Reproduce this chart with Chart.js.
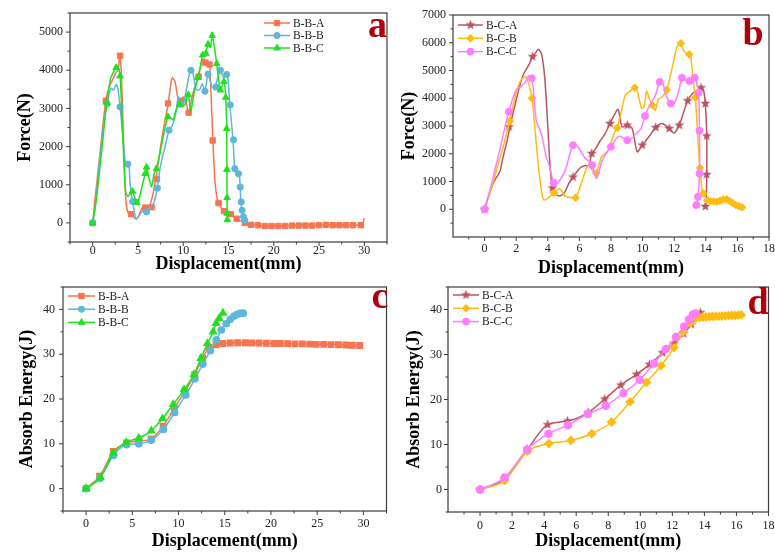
<!DOCTYPE html>
<html>
<head>
<meta charset="utf-8">
<script src="https://cdn.jsdelivr.net/npm/chart.js@4.4.1/dist/chart.umd.min.js"></script>
<style>
  body { margin: 0; background: #fff; }
  #wrap { position: relative; width: 775px; height: 554px; overflow: hidden; }
  canvas { position: absolute; }
</style>
</head>
<body>
<div id="wrap">
  <canvas id="ca" width="392" height="278" style="left:0px;top:0px"></canvas>
  <canvas id="cb" width="383" height="282" style="left:392px;top:0px"></canvas>
  <canvas id="cc" width="392" height="277" style="left:0px;top:277px"></canvas>
  <canvas id="cd" width="383" height="277" style="left:392px;top:277px"></canvas>
</div>
<script>
// ---- tick labels ----
var xTicks30 = [0, 5, 10, 15, 20, 25, 30];
var xTicks18 = [0, 2, 4, 6, 8, 10, 12, 14, 16, 18];
var aYTicks = [0, 1000, 2000, 3000, 4000, 5000];
var bYTicks = [0, 1000, 2000, 3000, 4000, 5000, 6000, 7000];
var energyTicks = [0, 10, 20, 30, 40];

var namesBB = ['B-B-A', 'B-B-B', 'B-B-C'];
var namesBC = ['B-C-A', 'B-C-B', 'B-C-C'];

// ---- (a) force, B-B series  [displacement mm, force N] ----
var aBBA_line = [[0,0],[0.3,700],[0.8,1800],[1.45,3200],[1.9,3600],[2.3,3800],[2.6,3950],[2.8,4000],[3.0,4380],[3.15,4000],[3.3,3000],[3.5,1500],[3.7,500],[3.95,250],[4.4,180],[4.8,100],[5.1,200],[5.5,400],[6.0,400],[6.3,450],[6.7,800],[7.05,1250],[7.5,2000],[8.0,2700],[8.35,3130],[8.6,3600],[8.8,3800],[9.1,3700],[9.4,3300],[9.7,3200],[10.0,3300],[10.3,3200],[10.6,2880],[10.9,3200],[11.2,3500],[11.7,3830],[12.0,4200],[12.3,4300],[12.55,4160],[12.9,4150],[13.05,3500],[13.28,2160],[13.5,1100],[13.7,700],[13.9,500],[14.2,400],[14.5,310],[14.9,280],[15.25,230],[15.6,150],[15.9,110],[16.3,60],[16.8,0],[17.3,-40],[18,-60],[19,-80],[20,-80],[21,-80],[22,-70],[23,-70],[24,-70],[25,-60],[26,-50],[27,-60],[28,-60],[29,-60],[29.7,-60],[30,120]];
var aBBA_mark = [[0,0],[1.45,3200],[3.03,4380],[4.24,230],[5.8,400],[6.5,410],[7.1,1150],[8.32,3130],[9.75,3200],[10.6,2890],[11.7,3830],[12.45,4200],[12.9,4150],[13.25,2160],[13.9,520],[14.5,310],[15.25,230],[15.9,110],[16.8,0],[17.5,-50],[18.25,-60],[19.0,-80],[19.75,-80],[20.5,-80],[21.25,-80],[22.0,-70],[22.75,-70],[23.5,-70],[24.25,-70],[25.0,-60],[25.75,-50],[26.5,-60],[27.25,-60],[28.0,-60],[28.75,-60],[29.6,-60]];
var aBBB_line = [[0,0],[0.3,450],[0.8,1700],[1.57,3110],[2.04,3530],[2.3,3480],[2.6,3630],[2.8,3500],[3.03,3040],[3.25,2500],[3.5,1800],[3.7,1500],[3.98,1590],[4.15,1000],[4.4,570],[4.6,300],[4.8,100],[5.1,180],[5.4,280],[5.77,330],[6.0,280],[6.4,400],[6.8,550],[7.12,900],[7.5,1500],[8.0,2000],[8.43,2420],[8.8,2550],[9.2,2900],[9.45,3300],[9.7,3100],[10.0,3100],[10.35,3500],[10.8,4000],[11.1,3900],[11.4,3500],[11.8,3490],[12.1,3650],[12.4,3450],[12.74,3900],[13.0,3700],[13.2,3550],[13.5,3560],[13.8,3800],[14.1,4000],[14.45,3800],[14.74,3880],[14.95,3750],[15.15,3090],[15.5,2170],[15.7,1420],[15.95,1350],[16.17,1290],[16.3,940],[16.35,550],[16.5,330],[16.65,160],[16.8,70],[16.9,40]];
var aBBB_mark = [[0,0],[1.6,3120],[3.03,3040],[3.87,1540],[4.42,560],[5.95,290],[7.15,910],[8.43,2430],[9.7,3110],[10.85,4000],[12.4,3450],[12.74,3900],[13.6,3560],[14.1,4000],[14.8,3890],[15.2,3090],[15.55,2180],[15.7,1420],[16.1,1290],[16.3,940],[16.4,550],[16.5,330],[16.65,160],[16.8,70]];
var aBBC_line = [[0,0],[0.4,600],[1.0,1900],[1.57,3150],[2.0,3800],[2.3,3950],[2.6,4070],[2.8,4100],[3.03,3850],[3.2,3000],[3.45,1600],[3.65,800],[3.9,700],[4.1,750],[4.4,830],[4.6,700],[4.9,530],[5.2,700],[5.5,1000],[5.8,1290],[5.95,1460],[6.15,1250],[6.5,950],[6.8,1300],[7.04,1420],[7.5,1900],[8.0,2500],[8.32,2780],[8.6,2750],[8.9,2700],[9.2,2950],[9.6,3110],[9.9,3050],[10.2,3100],[10.55,3360],[10.85,2950],[11.2,3400],[11.6,3810],[11.9,4100],[12.15,4400],[12.5,4440],[12.74,4680],[13.0,4600],[13.2,4910],[13.45,4600],[13.7,4170],[14.1,3480],[14.5,3700],[14.7,3290],[14.8,2470],[14.82,1400],[14.84,660],[14.85,250],[14.87,80]];
var aBBC_mark = [[0,0],[1.57,3150],[2.6,4070],[3.03,3850],[4.4,830],[4.9,530],[5.8,1290],[5.95,1460],[7.04,1420],[8.32,2780],[9.6,3110],[10.55,3360],[11.6,3810],[12.15,4400],[12.5,4440],[12.74,4680],[13.2,4910],[13.7,4170],[14.1,3480],[14.5,3700],[14.7,3290],[14.8,2470],[14.82,1400],[14.84,660],[14.85,250],[14.87,80]];

// ---- (b) force, B-C series ----
var bBCA_line = [[0,0],[0.2,400],[0.6,1000],[0.96,1350],[1.17,1890],[1.4,2400],[1.6,2970],[1.9,3700],[2.2,4400],[2.44,4830],[2.8,5200],[3.04,5500],[3.25,5650],[3.4,5770],[3.6,5600],[3.8,4780],[4.0,3000],[4.15,1500],[4.3,770],[4.5,550],[4.76,480],[5.08,620],[5.3,900],[5.6,1160],[5.9,1400],[6.14,1530],[6.4,1580],[6.6,1550],[6.78,2010],[6.97,2130],[7.3,2450],[7.6,2700],[7.94,3090],[8.2,3390],[8.45,3600],[8.7,2970],[9.03,3030],[9.34,2910],[9.66,2070],[9.98,2310],[10.4,2610],[10.83,2950],[11.25,3090],[11.68,2910],[12.0,2750],[12.32,3030],[12.6,3500],[12.85,3910],[13.17,4180],[13.5,4300],[13.7,4380],[13.85,4300],[13.97,3810],[14.06,2640],[14.06,1250],[14.03,500],[13.97,100]];
var bBCA_mark = [[0,0],[1.55,2970],[3.04,5500],[4.3,770],[5.6,1160],[6.78,2010],[7.94,3090],[9.03,3030],[9.98,2310],[10.83,2950],[11.68,2910],[12.32,3030],[12.85,3910],[13.7,4380],[13.97,3810],[14.06,2640],[14.06,1250],[13.97,100]];
var bBCB_line = [[0,0],[0.3,500],[0.8,1500],[1.2,2300],[1.59,3170],[2.0,4200],[2.3,4650],[2.59,4770],[2.8,4500],[3.0,4000],[3.2,2800],[3.45,1300],[3.65,500],[3.76,330],[4.0,400],[4.2,500],[4.4,590],[4.7,750],[4.9,650],[5.08,470],[5.4,420],[5.76,410],[6.1,900],[6.56,1590],[6.88,1350],[7.07,1300],[7.4,1890],[7.83,2130],[8.2,2750],[8.39,2930],[8.65,3500],[8.9,4100],[9.2,4250],[9.51,4380],[9.66,4270],[9.94,3630],[10.1,3700],[10.25,4260],[10.4,4030],[10.62,3750],[10.8,3570],[11.0,3970],[11.25,4050],[11.53,4300],[11.89,5140],[12.2,5880],[12.42,5980],[12.63,5680],[12.95,5580],[13.05,5460],[13.2,4650],[13.34,4030],[13.48,2730],[13.63,1490],[13.8,570],[13.97,440],[14.1,320],[14.44,290],[14.87,290],[15.0,340],[15.29,360],[15.6,260],[15.92,150],[16.15,100],[16.35,60],[16.4,50]];
var bBCB_mark = [[0,0],[1.59,3170],[3.0,4000],[4.4,590],[5.76,410],[7.07,1300],[8.39,2930],[9.51,4380],[10.62,3750],[11.53,4300],[12.42,5980],[12.95,5580],[13.34,4030],[13.63,1490],[13.85,570],[14.1,320],[14.3,290],[14.5,280],[14.7,270],[14.9,310],[15.1,350],[15.3,360],[15.5,300],[15.7,220],[15.9,150],[16.1,110],[16.3,70]];
var bBCC_line = [[0,0],[0.3,600],[0.9,2000],[1.53,3510],[2.0,4300],[2.3,4420],[2.6,4600],[2.78,4800],[2.99,4720],[3.1,4200],[3.27,3210],[3.6,2700],[3.9,1890],[4.12,1530],[4.37,950],[4.6,930],[5.1,1400],[5.4,2000],[5.6,2310],[5.9,2250],[6.3,1890],[6.8,1590],[7.08,1110],[7.45,1770],[7.99,2250],[8.5,2630],[9.03,2490],[9.3,2550],[9.6,2730],[9.9,2900],[10.15,3360],[10.4,3690],[10.8,4100],[11.08,4590],[11.25,4600],[11.5,4080],[11.78,3810],[12.0,3810],[12.3,4290],[12.49,4740],[12.74,4650],[12.97,4620],[13.3,4740],[13.45,4500],[13.55,4200],[13.6,2830],[13.6,1290],[13.5,450],[13.4,150]];
var bBCC_mark = [[0,0],[1.53,3510],[2.99,4720],[4.37,950],[5.6,2310],[6.8,1590],[7.99,2250],[9.03,2490],[10.15,3360],[11.08,4590],[11.78,3810],[12.49,4740],[12.97,4620],[13.3,4740],[13.55,4200],[13.6,2830],[13.6,1290],[13.5,450],[13.4,150]];

// ---- (c) absorbed energy, B-B series  [mm, J] ----
var cBBA = [[0,0],[1.46,2.75],[2.95,8.3],[4.38,10.2],[5.7,10.6],[7.05,11.1],[8.33,13.95],[9.54,17.96],[10.68,21.67],[11.74,25.4],[12.6,29.1],[13.3,31.5],[14.06,32.1],[14.8,32.4],[15.6,32.5],[16.4,32.55],[17.2,32.55],[17.9,32.5],[18.7,32.5],[19.5,32.45],[20.3,32.4],[21.0,32.4],[21.8,32.35],[22.6,32.3],[23.4,32.3],[24.2,32.25],[24.9,32.2],[25.7,32.2],[26.5,32.15],[27.3,32.1],[28.1,32.05],[28.8,32.0],[29.6,31.95]];
var cBBB = [[0,0],[1.5,2.3],[2.95,7.4],[4.38,9.8],[5.7,10.0],[7.05,10.8],[8.36,13.2],[9.57,17.0],[10.78,20.9],[11.78,24.5],[12.63,27.8],[13.45,30.8],[14.09,33.2],[14.63,35.4],[15.16,36.8],[15.6,37.8],[16.0,38.5],[16.35,38.9],[16.7,39.1],[17.0,39.15]];
var cBBC = [[0,0],[1.53,2.45],[2.95,7.94],[4.34,10.3],[5.7,11.3],[7.05,12.9],[8.26,15.6],[9.43,18.8],[10.6,22.1],[11.67,25.45],[12.42,29.1],[13.13,32.4],[13.74,35.0],[14.06,36.9],[14.4,38.0],[14.8,39.2]];

// ---- (d) absorbed energy, B-C series ----
var dBCA = [[0,0],[1.53,2.2],[2.96,8.9],[4.22,14.4],[5.45,15.2],[6.75,17.1],[7.78,20.1],[8.79,23.2],[9.77,25.6],[10.58,27.8],[11.4,30.4],[12.1,32.4],[12.69,34.6],[13.18,36.7],[13.75,39.3]];
var dBCB = [[0,0],[1.53,2.0],[2.96,8.5],[4.29,10.2],[5.67,10.9],[6.97,12.4],[8.2,14.95],[9.36,19.5],[10.38,23.8],[11.3,27.5],[12.1,31.5],[12.69,35.0],[13.1,36.9],[13.47,38.1],[13.7,38.25],[13.9,38.3],[14.1,38.35],[14.3,38.4],[14.5,38.45],[14.7,38.5],[14.9,38.5],[15.1,38.55],[15.3,38.6],[15.5,38.65],[15.7,38.7],[15.9,38.7],[16.1,38.75],[16.3,38.8]];
var dBCC = [[0,0],[1.53,2.65],[2.94,8.9],[4.27,12.4],[5.48,14.3],[6.72,16.8],[7.85,18.6],[8.95,21.4],[9.97,24.4],[10.85,28.0],[11.6,31.2],[12.22,33.9],[12.73,36.2],[13.04,37.8],[13.28,38.9],[13.45,39.1]];

var serif = '"Liberation Serif", "Times New Roman", serif';
Chart.defaults.font.family = serif;

var colBBA = '#F8744E', colBBB = '#5DB7D9', colBBC = '#1FE11F';
var colBCA = '#B75660', colBCB = '#FFBB11', colBCC = '#FF7DFF';

function pts(arr) {
  return arr.map(function (p) { return { x: p[0], y: p[1] }; });
}

function starImage(color) {
  var c = document.createElement('canvas');
  c.width = 11; c.height = 11;
  var g = c.getContext('2d');
  g.fillStyle = color;
  g.beginPath();
  for (var i = 0; i < 10; i++) {
    var r = i % 2 ? 2.2 : 5.3, t = -Math.PI / 2 + i * Math.PI / 5;
    g.lineTo(5.5 + r * Math.cos(t), 5.5 + r * Math.sin(t));
  }
  g.closePath();
  g.fill();
  return c;
}

function lineSet(data, color, order) {
  return { data: pts(data), showLine: true, borderColor: color, borderWidth: 1.5,
    pointRadius: 0, tension: 0.25, fill: false, order: order };
}
function markSet(data, color, style, r, order) {
  return { data: pts(data), showLine: false, pointStyle: style, pointRadius: r,
    backgroundColor: color, borderColor: color, borderWidth: 1, marker: true, order: order };
}
function smoothSet(data, color, style, r, order) {
  return { data: pts(data), showLine: true, borderColor: color, borderWidth: 1.5,
    cubicInterpolationMode: 'monotone', pointStyle: style, pointRadius: r,
    backgroundColor: color, marker: true, order: order };
}

// frame, minor ticks, panel letter and legend
var framePlugin = {
  id: 'frame',
  afterDraw: function (chart, args, o) {
    var ctx = chart.ctx, a = chart.chartArea, sx = chart.scales.x, sy = chart.scales.y;
    ctx.save();
    ctx.strokeStyle = '#3c3c3c';
    ctx.lineWidth = 1.2;
    ctx.strokeRect(a.left, a.top, a.right - a.left, a.bottom - a.top);
    ctx.lineWidth = 1;
    ctx.beginPath();
    function ticks(scale, list, horiz) {
      var step = list[1] - list[0];
      list.forEach(function (v) {
        var p = scale.getPixelForValue(v);
        if (horiz) { ctx.moveTo(p, a.bottom); ctx.lineTo(p, a.bottom + 4); }
        else { ctx.moveTo(a.left, p); ctx.lineTo(a.left - 4, p); }
      });
      for (var v = list[0] - step / 2; v <= scale.max; v += step) {
        if (v < scale.min) continue;
        var p = scale.getPixelForValue(v);
        if (horiz) { ctx.moveTo(p, a.bottom); ctx.lineTo(p, a.bottom + 2.5); }
        else { ctx.moveTo(a.left, p); ctx.lineTo(a.left - 2.5, p); }
      }
    }
    ticks(sx, o.xt, true);
    ticks(sy, o.yt, false);
    ctx.stroke();

    ctx.fillStyle = '#B0000A';
    ctx.font = 'bold 38px ' + serif;
    ctx.textAlign = 'center';
    ctx.textBaseline = 'alphabetic';
    ctx.fillText(o.letter, o.lx, o.ly);

    var marks = chart.data.datasets.filter(function (d) { return d.marker; });
    ctx.font = '11.5px ' + serif;
    ctx.textAlign = 'left';
    ctx.textBaseline = 'middle';
    marks.forEach(function (d, i) {
      var y = o.ly0 + i * o.dy;
      var col = d.borderColor;
      ctx.strokeStyle = col;
      ctx.lineWidth = 1.5;
      ctx.beginPath();
      ctx.moveTo(o.lx0, y); ctx.lineTo(o.lx1, y);
      ctx.stroke();
      ctx.fillStyle = col;
      ctx.lineWidth = 1;
      Chart.helpers.drawPoint(ctx, { pointStyle: d.pointStyle, radius: d.pointRadius, rotation: 0, borderWidth: 1 },
        (o.lx0 + o.lx1) / 2, y);
      ctx.fillStyle = '#222';
      ctx.fillText(o.names[i], o.lx1 + 3, y + 0.5);
    });
    ctx.restore();
  }
};

function xScale(min, max, list, lp, tp, h) {
  return {
    type: 'linear', min: min, max: max,
    afterBuildTicks: function (s) { s.ticks = list.map(function (v) { return { value: v }; }); },
    afterFit: function (s) { s.height = h; s.paddingLeft = 0; s.paddingRight = 0; },
    grid: { display: false, drawTicks: false },
    border: { display: false },
    ticks: { padding: lp, color: '#222', autoSkip: false, maxRotation: 0,
      font: { family: serif, size: 12 }, callback: function (v) { return String(v); } },
    title: { display: true, text: 'Displacement(mm)', color: '#000',
      font: { family: serif, size: 18, weight: 'bold' }, padding: { top: 0, bottom: tp } }
  };
}
function yScale(min, max, list, text, lp, tp, w) {
  return {
    type: 'linear', min: min, max: max,
    afterBuildTicks: function (s) { s.ticks = list.map(function (v) { return { value: v }; }); },
    afterFit: function (s) { s.width = w; s.paddingTop = 0; s.paddingBottom = 0; },
    grid: { display: false, drawTicks: false },
    border: { display: false },
    ticks: { padding: lp, color: '#222', autoSkip: false,
      font: { family: serif, size: 12 }, callback: function (v) { return String(v); } },
    title: { display: true, text: text, color: '#000',
      font: { family: serif, size: 18, weight: 'bold' }, padding: { top: tp, bottom: 0 } }
  };
}

function make(id, datasets, pad, xs, ys, frame) {
  return new Chart(document.getElementById(id), {
    type: 'scatter',
    data: { datasets: datasets },
    options: {
      responsive: false, animation: false,
      layout: { padding: pad },
      plugins: { legend: { display: false }, tooltip: { enabled: false }, frame: frame },
      scales: { x: xs, y: ys }
    },
    plugins: [framePlugin]
  });
}

make('ca', [
  lineSet(aBBA_line, colBBA, 6), markSet(aBBA_mark, colBBA, 'rect', 3.8, 5),
  lineSet(aBBB_line, colBBB, 4), markSet(aBBB_mark, colBBB, 'circle', 3.1, 3),
  lineSet(aBBC_line, colBBC, 2), markSet(aBBC_mark, colBBC, 'triangle', 3.8, 1)
], { left: 0, top: 13, right: 1, bottom: 0 },
  xScale(-2.5, 32.5, xTicks30, 2, 3, 36),
  yScale(-500, 5500, aYTicks, 'Force(N)', 7, 15, 70),
  { xt: xTicks30, yt: aYTicks, letter: 'a', lx: 377.5, ly: 37,
    names: namesBB, lx0: 264, lx1: 290, ly0: 23, dy: 12.5 });

make('cb', [
  lineSet(bBCA_line, colBCA, 6), markSet(bBCA_mark, colBCA, starImage(colBCA), 5, 5),
  lineSet(bBCB_line, colBCB, 4), markSet(bBCB_mark, colBCB, 'rectRot', 3.8, 3),
  lineSet(bBCC_line, colBCC, 2), markSet(bBCC_mark, colBCC, 'circle', 3.5, 1)
], { left: 0, top: 15, right: 5, bottom: 0 },
  xScale(-2, 18, xTicks18, 5, 3, 45),
  yScale(-1000, 7000, bYTicks, 'Force(N)', 7, 7, 61),
  { xt: xTicks18, yt: bYTicks, letter: 'b', lx: 361, ly: 45,
    names: namesBC, lx0: 66, lx1: 91, ly0: 25, dy: 13.3 });

make('cc', [
  smoothSet(cBBA, colBBA, 'rect', 3.8, 3),
  smoothSet(cBBB, colBBB, 'circle', 3.1, 2),
  smoothSet(cBBC, colBBC, 'triangle', 3.8, 1)
], { left: 0, top: 10, right: 1, bottom: 0 },
  xScale(-2.5, 32.5, xTicks30, 6, 2, 43),
  yScale(-5, 45, energyTicks, 'Absorb Energy(J)', 8, 17, 63),
  { xt: xTicks30, yt: energyTicks, letter: 'c', lx: 380, ly: 31,
    names: namesBB, lx0: 68, lx1: 95, ly0: 19, dy: 13.2 });

make('cd', [
  smoothSet(dBCA, colBCA, starImage(colBCA), 5, 3),
  smoothSet(dBCB, colBCB, 'rectRot', 3.8, 2),
  smoothSet(dBCC, colBCC, 'circle', 3.5, 1)
], { left: 0, top: 10, right: 1, bottom: 0 },
  xScale(-2, 18, xTicks18, 7, 1.5, 42),
  yScale(-5, 45, energyTicks, 'Absorb Energy(J)', 6, 12, 56),
  { xt: xTicks18, yt: energyTicks, letter: 'd', lx: 366, ly: 37,
    names: namesBC, lx0: 61, lx1: 87, ly0: 18, dy: 13.3 });
</script>
</body>
</html>
